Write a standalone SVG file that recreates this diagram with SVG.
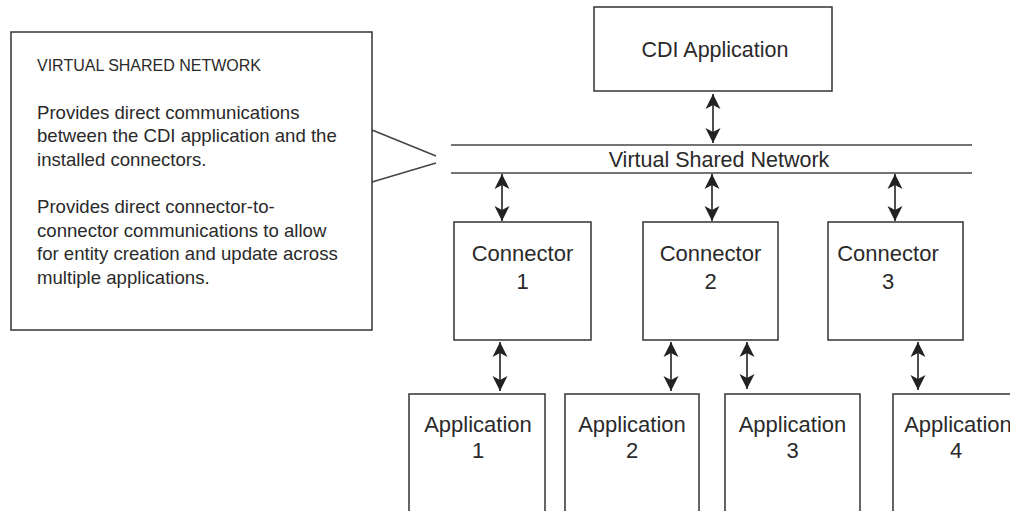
<svg xmlns="http://www.w3.org/2000/svg" width="1010" height="511" viewBox="0 0 1010 511">
  <style>
    .box { fill: #ffffff; stroke: #333333; stroke-width: 1.5; }
    .lbl { font-family: "Liberation Sans", Arial, sans-serif; font-size: 22px; fill: #2a2a2a; text-anchor: middle; }
    .lbl2 { font-family: "Liberation Sans", Arial, sans-serif; font-size: 21.5px; fill: #2a2a2a; text-anchor: middle; }
    .note { font-family: "Liberation Sans", Arial, sans-serif; font-size: 18.6px; fill: #2a2a2a; }
    .head { font-family: "Liberation Sans", Arial, sans-serif; font-size: 16px; fill: #2a2a2a; }
    .net { stroke: #444444; stroke-width: 1.5; fill: none; }
    .arr { stroke: #222222; stroke-width: 1.6; fill: none; marker-start: url(#ah); marker-end: url(#ah); }
  </style>
  <defs>
    <marker id="ah" markerUnits="userSpaceOnUse" markerWidth="18" markerHeight="18" viewBox="-17 -9 18 18" refX="0" refY="0" orient="auto-start-reverse">
      <path d="M0,0 L-15,-7.5 L-11,0 L-15,7.5 Z" fill="#222222"/>
    </marker>
  </defs>
  <rect width="1010" height="511" fill="#ffffff"/>

  <g id="note">
    <rect class="box" x="11" y="32" width="361" height="298"/>
    <text class="head" x="37" y="71">VIRTUAL SHARED NETWORK</text>
    <text class="note" x="37" y="119">Provides direct communications</text>
    <text class="note" x="37" y="142">between the CDI application and the</text>
    <text class="note" x="37" y="165.5">installed connectors.</text>
    <text class="note" x="37" y="213">Provides direct connector-to-</text>
    <text class="note" x="37" y="236.5">connector communications to allow</text>
    <text class="note" x="37" y="260">for entity creation and update across</text>
    <text class="note" x="37" y="283.5">multiple applications.</text>
    <polyline class="net" points="372,130 436,156"/>
    <polyline class="net" points="372,182 436,163"/>
  </g>

  <g id="cdi">
    <rect class="box" x="594" y="7" width="238" height="84"/>
    <text class="lbl2" x="715" y="57">CDI Application</text>
  </g>

  <g id="network">
    <line class="net" x1="451" y1="145" x2="972" y2="145"/>
    <line class="net" x1="451" y1="173" x2="972" y2="173"/>
    <text class="lbl2" x="719" y="167">Virtual Shared Network</text>
  </g>

  <g id="connector1">
    <rect class="box" x="454" y="222" width="137" height="118"/>
    <text class="lbl" x="522.5" y="261">Connector</text>
    <text class="lbl" x="522.5" y="289">1</text>
  </g>
  <g id="connector2">
    <rect class="box" x="643" y="222" width="135" height="118"/>
    <text class="lbl" x="710.5" y="261">Connector</text>
    <text class="lbl" x="710.5" y="289">2</text>
  </g>
  <g id="connector3">
    <rect class="box" x="828" y="222" width="135" height="118"/>
    <text class="lbl" x="888" y="261">Connector</text>
    <text class="lbl" x="888" y="289">3</text>
  </g>

  <g id="app1">
    <rect class="box" x="409" y="394" width="136" height="130"/>
    <text class="lbl" x="478" y="432">Application</text>
    <text class="lbl" x="478" y="458">1</text>
  </g>
  <g id="app2">
    <rect class="box" x="565" y="394" width="134" height="130"/>
    <text class="lbl" x="632" y="432">Application</text>
    <text class="lbl" x="632" y="458">2</text>
  </g>
  <g id="app3">
    <rect class="box" x="725" y="394" width="135" height="130"/>
    <text class="lbl" x="792.5" y="432">Application</text>
    <text class="lbl" x="792.5" y="458">3</text>
  </g>
  <g id="app4">
    <rect class="box" x="893" y="394" width="135" height="130"/>
    <text class="lbl" x="958" y="432">Application</text>
    <text class="lbl" x="956" y="458">4</text>
  </g>

  <g id="connectors">
    <line class="arr" x1="713" y1="94" x2="713" y2="143"/>
    <line class="arr" x1="502" y1="174" x2="502" y2="221"/>
    <line class="arr" x1="712" y1="174" x2="712" y2="221"/>
    <line class="arr" x1="895" y1="174" x2="895" y2="221"/>
    <line class="arr" x1="500" y1="342" x2="500" y2="391"/>
    <line class="arr" x1="671" y1="342" x2="671" y2="391"/>
    <line class="arr" x1="747" y1="342" x2="747" y2="389"/>
    <line class="arr" x1="918" y1="342" x2="918" y2="390"/>
  </g>
</svg>
